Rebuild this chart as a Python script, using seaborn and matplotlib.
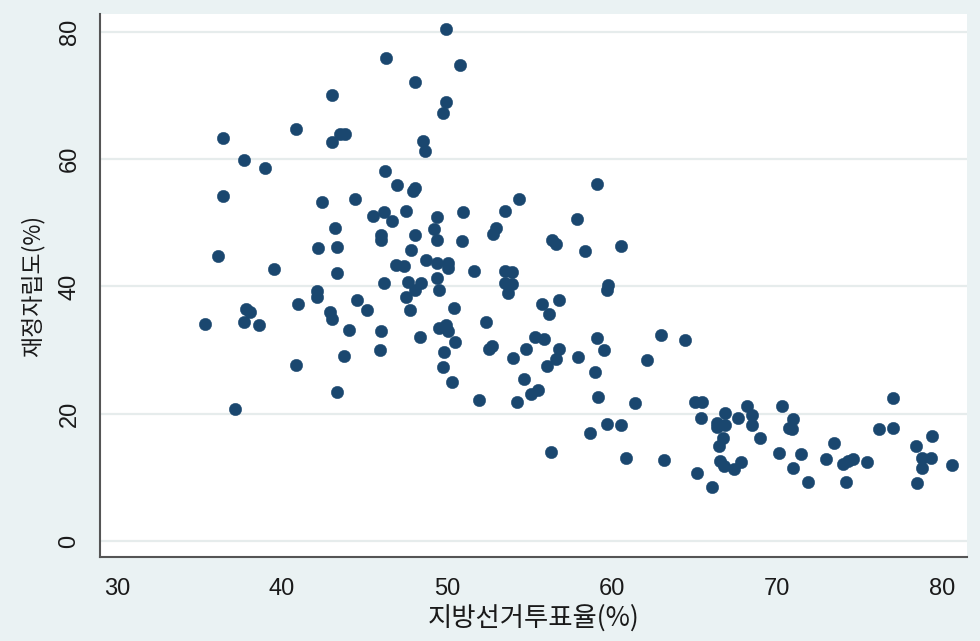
import matplotlib
matplotlib.use("Agg")
import matplotlib.pyplot as plt
import seaborn as sns
import pandas as pd

turnout = [
    49.92, 46.32, 50.79, 48.04, 43.03, 49.92, 49.76, 40.87, 36.42, 43.53,
    43.84, 43.03, 48.56, 48.67, 37.72, 38.99, 46.26, 46.95, 47.94, 48.09,
    59.07, 36.42, 42.41, 44.44, 45.53, 46.20, 46.65, 47.50, 49.38, 50.99,
    53.52, 54.36, 57.86, 43.21, 46.00, 46.00, 48.04, 49.21, 49.38, 50.93,
    52.95, 52.81, 56.35, 56.59, 58.35, 42.20, 43.35, 47.82, 36.10, 39.53,
    43.35, 46.89, 47.41, 48.75, 49.38, 50.08, 50.08, 51.64, 53.52, 53.96,
    53.52, 53.96, 53.72, 46.18, 47.65, 48.44, 48.04, 49.38, 49.53, 42.10,
    42.10, 44.53, 47.50, 56.79, 60.53, 59.78, 59.72, 40.95, 45.15, 37.82,
    38.06, 37.72, 38.61, 35.33, 42.89, 43.05, 44.08, 46.02, 45.94, 43.76,
    40.87, 43.35, 37.17, 50.44, 47.74, 52.35, 49.52, 49.92, 50.08, 50.47,
    48.36, 49.84, 49.76, 50.30, 52.71, 52.55, 51.94, 55.78, 56.16, 55.33,
    55.88, 54.77, 53.98, 56.79, 56.62, 56.08, 57.96, 59.07, 59.52, 58.95,
    59.15, 54.68, 55.07, 55.53, 54.22, 58.67, 56.32, 62.97, 64.42, 62.10,
    61.39, 59.68, 60.53, 60.87, 63.17, 65.03, 65.44, 65.39, 66.85, 66.38,
    66.38, 66.85, 67.65, 68.20, 68.50, 68.50, 66.71, 66.50, 66.55, 66.81,
    67.41, 67.80, 68.97, 70.28, 70.99, 70.75, 70.89, 70.14, 71.45, 70.99,
    71.86, 65.13, 66.08, 72.95, 73.47, 74.02, 74.28, 74.59, 74.18, 75.45,
    76.16, 77.01, 77.01, 78.42, 79.38, 78.79, 79.35, 78.79, 78.47, 80.61,
]
self_reliance = [
    80.44, 75.93, 74.78, 72.11, 70.07, 69.02, 67.29, 64.73, 63.27, 64.02,
    64.02, 62.69, 62.84, 61.27, 59.91, 58.65, 58.13, 55.93, 54.99, 55.46,
    56.09, 54.25, 53.21, 53.73, 51.11, 51.69, 50.23, 51.89, 50.95, 51.74,
    51.89, 53.73, 50.59, 49.22, 48.03, 47.37, 48.03, 49.07, 47.29, 47.13,
    49.22, 48.19, 47.29, 46.66, 45.61, 46.03, 46.19, 45.72, 44.85, 42.69,
    42.06, 43.44, 43.28, 44.19, 43.63, 43.72, 42.84, 42.47, 42.47, 42.31,
    40.49, 40.33, 39.01, 40.49, 40.64, 40.49, 39.43, 41.40, 39.39, 39.28,
    38.33, 37.86, 38.38, 37.91, 46.30, 40.22, 39.43, 37.19, 36.25, 36.45,
    35.93, 34.45, 33.89, 34.09, 35.93, 34.88, 33.15, 32.95, 30.01, 29.07,
    27.60, 23.36, 20.79, 36.56, 36.25, 34.41, 33.51, 33.94, 32.99, 31.31,
    32.00, 29.65, 27.29, 25.03, 30.68, 30.12, 22.11, 37.23, 35.71, 32.10,
    31.74, 30.12, 28.80, 30.12, 28.59, 27.45, 28.96, 31.89, 29.96, 26.55,
    22.67, 25.45, 23.05, 23.77, 21.79, 17.02, 14.03, 32.36, 31.63, 28.48,
    21.68, 18.38, 18.22, 13.09, 12.68, 21.89, 21.89, 19.37, 20.06, 18.49,
    17.91, 18.30, 19.37, 21.26, 19.80, 18.22, 16.23, 14.97, 12.57, 11.83,
    11.31, 12.46, 16.13, 21.21, 19.17, 17.71, 17.55, 13.87, 13.67, 11.42,
    9.22, 10.73, 8.53, 12.88, 15.44, 12.10, 12.57, 12.84, 9.27, 12.36,
    17.55, 22.47, 17.71, 14.93, 16.54, 13.09, 13.09, 11.42, 9.07, 11.99,
]
x_ticks = [30, 40, 50, 60, 70, 80]
y_ticks = [0, 20, 40, 60, 80]
x_label = "지방선거투표율(%)"
y_label = "재정자립도(%)"

df = pd.DataFrame({"turnout": turnout, "reliance": self_reliance})

sns.set_theme(style="white")
plt.rcParams["font.family"] = ["Noto Sans CJK KR", "DejaVu Sans"]

bg = "#EAF2F3"
fig = plt.figure(figsize=(9.8, 6.41), dpi=100, facecolor=bg)
ax = fig.add_axes([100 / 980, 1 - 557 / 641, (967 - 100) / 980, (557 - 14) / 641])
ax.set_facecolor("white")

for yv in y_ticks:
    ax.axhline(yv, color="#E6ECEC", lw=1.6, zorder=0)

sns.scatterplot(data=df, x="turnout", y="reliance", ax=ax, color="#1A476F",
                s=80, edgecolor="#1A476F", linewidth=0.3, zorder=3, legend=False)

ax.set_xlim(28.97, 81.52)
ax.set_ylim(-2.5, 82.8)
ax.set_xticks(x_ticks)
ax.set_yticks(y_ticks)
tick_font = dict(family=["Liberation Sans", "DejaVu Sans"], size=17, color="#1a1a1a")
ax.set_xticklabels([str(v) for v in x_ticks], **tick_font)
ax.set_yticklabels([str(v) for v in y_ticks], rotation=90, va="center", **tick_font)

for side in ["top", "right"]:
    ax.spines[side].set_visible(False)
for side in ["left", "bottom"]:
    ax.spines[side].set_color("#555555")
    ax.spines[side].set_linewidth(1.5)

ax.tick_params(axis="both", which="major", direction="out", length=8, width=1.1,
               color="#555555")
ax.tick_params(axis="x", pad=7)
ax.tick_params(axis="y", pad=6)

ax.set_xlabel(x_label, fontsize=19, color="#1a1a1a", labelpad=3)
ax.set_ylabel(y_label, fontsize=16.5, color="#1a1a1a", labelpad=10)

fig.savefig("out.png", dpi=100, facecolor=bg)
